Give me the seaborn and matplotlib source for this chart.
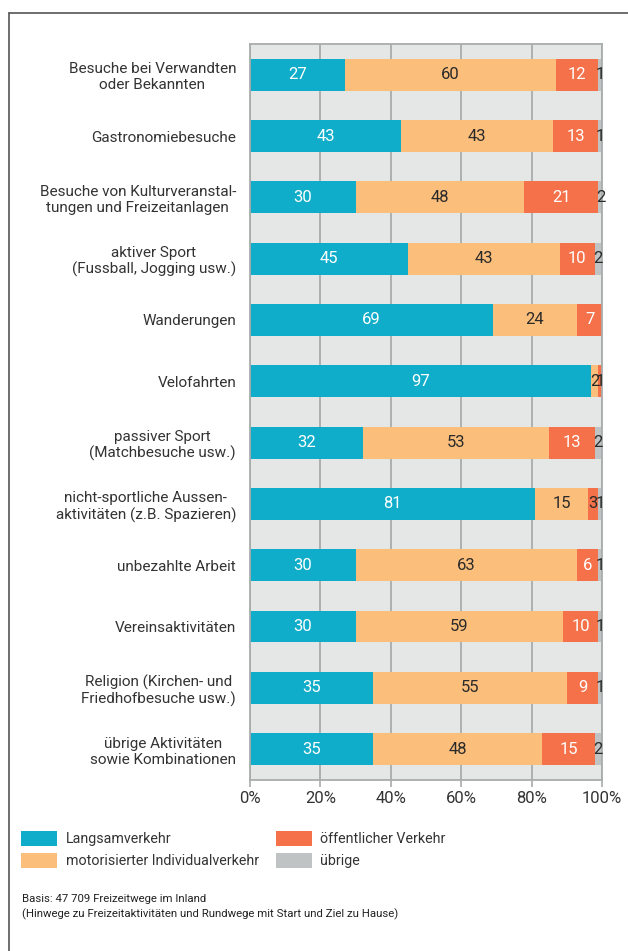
import numpy as np
import pandas as pd
import matplotlib.pyplot as plt
import seaborn as sns
from matplotlib.patches import Patch

categories = [
    "Besuche bei Verwandten\noder Bekannten",
    "Gastronomiebesuche",
    "Besuche von Kulturveranstal-\ntungen und Freizeitanlagen",
    "aktiver Sport\n(Fussball, Jogging usw.)",
    "Wanderungen",
    "Velofahrten",
    "passiver Sport\n(Matchbesuche usw.)",
    "nicht-sportliche Aussen-\naktivitäten (z.B. Spazieren)",
    "unbezahlte Arbeit",
    "Vereinsaktivitäten",
    "Religion (Kirchen- und\nFriedhofbesuche usw.)",
    "übrige Aktivitäten\nsowie Kombinationen",
]
langsam = [27, 43, 30, 45, 69, 97, 32, 81, 30, 30, 35, 35]
miv = [60, 43, 48, 43, 24, 2, 53, 15, 63, 59, 55, 48]
oev = [12, 13, 21, 10, 7, 1, 13, 3, 6, 10, 9, 15]
uebrige = [1, 1, 2, 2, 0, 0, 2, 1, 1, 1, 1, 2]

series_names = ["Langsamverkehr", "motorisierter Individualverkehr",
                "öffentlicher Verkehr", "übrige"]
colors = ["#0fadc9", "#fbbf7b", "#f4714a", "#bfc3c3"]
footnote = ("Basis: 47 709 Freizeitwege im Inland\n"
            "(Hinwege zu Freizeitaktivitäten und Rundwege mit Start und Ziel zu Hause)")

df = pd.DataFrame({"cat": categories, "l": langsam, "m": miv, "o": oev, "u": uebrige})
vals = df[["l", "m", "o", "u"]].to_numpy()
cum = vals.cumsum(axis=1)

sns.set_theme(style="white")
plt.rcParams["font.family"] = ["Roboto", "DejaVu Sans"]

fig = plt.figure(figsize=(6.28, 9.51), dpi=100)
ax = fig.add_axes([0.398, 0.18, 0.5605, 0.7737])
ax.set_facecolor("#e4e7e6")

# stacked bars: draw cumulative totals from the outside in
for j in range(3, -1, -1):
    sns.barplot(x=cum[:, j], y=df["cat"], orient="h", color=colors[j],
                width=0.52, saturation=1, linewidth=0, ax=ax, zorder=2)

# value labels
for i in range(len(categories)):
    for j in range(4):
        v = vals[i, j]
        if v == 0:
            continue
        center = cum[i, j] - v / 2
        if j == 3:
            center = min(center, 99.6)
        light = (j == 0) or (j == 2 and v >= 5)
        ax.text(center, i, str(v), ha="center", va="center", fontsize=12,
                color="white" if light else "#2a2a2a", zorder=4)

ax.set_xlim(0, 100)
ax.set_ylim(11.5, -0.5)
ax.set_xticks(np.arange(0, 101, 20))
ax.set_xticklabels([f"{t}%" for t in range(0, 101, 20)])
ax.xaxis.grid(True, color="#a9acac", linewidth=1.3, zorder=0)
ax.set_axisbelow(True)
ax.set_xlabel("")
ax.set_ylabel("")
ax.tick_params(axis="x", length=5, width=1.2, color="#a9acac", pad=3,
               labelsize=12, labelcolor="#333333", bottom=True)
ax.tick_params(axis="y", length=0, pad=10, labelsize=11, labelcolor="#333333")
for lab in ax.get_yticklabels():
    lab.set_multialignment("center")
for s in ax.spines.values():
    s.set_color("#a9acac")
    s.set_linewidth(1.3)

# legend
handles = [Patch(facecolor=colors[k], edgecolor="none") for k in [0, 1, 2, 3]]
fig.legend(handles, series_names, loc="upper left", bbox_to_anchor=(0.018, 0.137),
           ncol=2, frameon=False, fontsize=10.3, handlelength=2.5, handleheight=1.25,
           handletextpad=0.6, columnspacing=1.2, labelspacing=0.45,
           borderpad=0.2, labelcolor="#333333")

fig.text(0.035, 0.06, footnote, fontsize=8.2, color="#222222", va="top",
         linespacing=1.5)

# outer frame
fig.add_artist(plt.Line2D([0.0143, 1.0], [0.9863, 0.9863], transform=fig.transFigure,
                          color="#555555", linewidth=1.2))
fig.add_artist(plt.Line2D([0.0143, 0.0143], [0.0, 0.9863], transform=fig.transFigure,
                          color="#555555", linewidth=1.2))

fig.savefig("out.png", dpi=100)
